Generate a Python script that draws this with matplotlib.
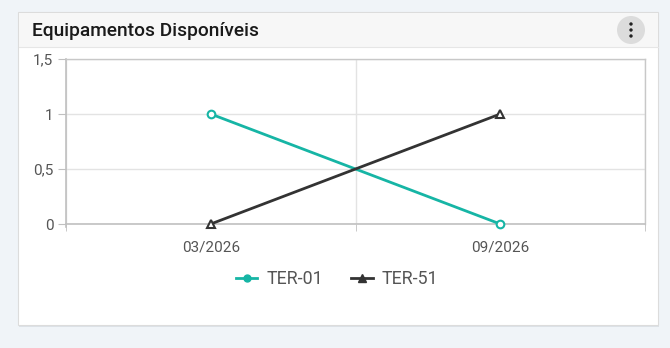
import matplotlib
matplotlib.use("Agg")
import matplotlib.pyplot as plt
from matplotlib.patches import Rectangle, Circle
from matplotlib.lines import Line2D

categories = ["03/2026", "09/2026"]
ter01 = [1, 0]
ter51 = [0, 1]
series_names = ["TER-01", "TER-51"]
y_ticks = [0, 0.5, 1, 1.5]
y_labels = ["0", "0,5", "1", "1,5"]
title = "Equipamentos Disponíveis"

W, H = 670, 348
fig = plt.figure(figsize=(W / 100, H / 100), dpi=100)
fig.patch.set_facecolor("#f0f4f8")
plt.rcParams["font.family"] = ["Roboto", "DejaVu Sans"]

def fx(x):
    return x / W

def fy(y):
    return 1 - y / H

# card shadow and card
bg = fig.add_axes([0, 0, 1, 1], zorder=0)
bg.set_xlim(0, W)
bg.set_ylim(H, 0)
bg.axis("off")
bg.add_patch(Rectangle((19, 14), 640, 313, facecolor="#dde2e7", edgecolor="none"))
bg.add_patch(Rectangle((18, 12), 640, 313, facecolor="white", edgecolor="#dcdcdc", lw=0.8))
bg.add_patch(Rectangle((18.5, 12.5), 639, 34, facecolor="#f7f7f7", edgecolor="none"))
bg.plot([18.5, 657.5], [46.5, 46.5], color="#e6e6e6", lw=0.8)
bg.text(32, 30.5, title, fontsize=13.8, fontweight="medium", color="#1a1a1a", va="center", ha="left")
bg.add_patch(Circle((631, 30), 14, facecolor="#dcdcdc", edgecolor="none"))
for dy in (-6, 0, 6):
    bg.add_patch(Circle((631, 30 + dy), 1.7, facecolor="#222222", edgecolor="none"))

# plot area
left, right, top, bottom = 66, 645, 59, 224
ax = fig.add_axes([fx(left), fy(bottom), fx(right - left), (bottom - top) / H], zorder=1)
ax.set_facecolor("none")
x = list(range(len(categories)))
teal = "#16b5a5"
dark = "#333333"
ax.plot(x, ter01, color=teal, lw=2, marker="o", ms=5.5, mfc="white", mec=teal, mew=1.5,
        label=series_names[0], zorder=3, clip_on=False)
ax.plot(x, ter51, color=dark, lw=2, marker="^", ms=6, mfc="white", mec=dark, mew=1.5,
        label=series_names[1], zorder=3, clip_on=False)

ax.set_xlim(-0.5, len(categories) - 0.5)
ax.set_ylim(0, 1.5)
ax.set_yticks(y_ticks)
ax.set_yticklabels(y_labels)
ax.set_xticks(x)
ax.set_xticklabels(categories)
ax.set_xticks([i - 0.5 for i in range(len(categories) + 1)], minor=True)
ax.grid(axis="y", color="#e3e3e3", lw=1)
ax.grid(axis="x", which="minor", color="#e3e3e3", lw=1)
for s in ["top", "right"]:
    ax.spines[s].set_color("#c8c8c8")
    ax.spines[s].set_linewidth(1)
ax.spines["left"].set_color("#c0c0c0")
ax.spines["bottom"].set_color("#c0c0c0")
ax.spines["left"].set_linewidth(1.2)
ax.spines["bottom"].set_linewidth(1.2)
ax.spines["left"].set_bounds(-0.03, 1.5)
ax.tick_params(axis="y", length=6, color="#c0c0c0", labelsize=11, labelcolor="#555555", pad=3)
ax.tick_params(axis="x", which="major", length=0, labelsize=11, labelcolor="#555555", pad=12)
ax.tick_params(axis="x", which="minor", length=5, color="#c0c0c0")
ax.set_axisbelow(True)

handles = [
    Line2D([], [], color=teal, lw=2, marker="o", ms=5, mfc=teal, mec=teal),
    Line2D([], [], color=dark, lw=2, marker="^", ms=6, mfc=dark, mec=dark),
]
fig.legend(handles, series_names, loc="center", bbox_to_anchor=(fx(337), fy(279)), ncol=2,
           frameon=False, fontsize=12.8, labelcolor="#555555", handlelength=1.2,
           columnspacing=1.6, handletextpad=0.5)

fig.savefig("out.png", dpi=100, facecolor=fig.get_facecolor())
